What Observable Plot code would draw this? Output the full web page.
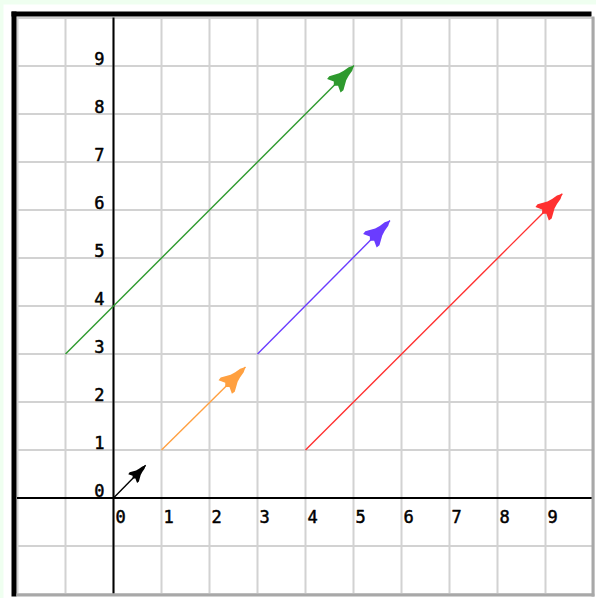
<!DOCTYPE html>
<html>
<head>
<meta charset="utf-8">
<script src="https://cdn.jsdelivr.net/npm/d3@7"></script>
<script src="https://cdn.jsdelivr.net/npm/@observablehq/plot@0.6"></script>
<style>
  html, body { margin: 0; padding: 0; background: #effff0; }
</style>
</head>
<body>
<div id="chart"></div>
<script>
// ---- data ----
const vectorNames = ["black", "orange", "purple", "green", "red"];
const startX = [0, 1, 3, -1, 4];
const startY = [0, 1, 3, 3, 1];
const endX = [0.67, 2.75, 5.76, 5.01, 9.35];
const endY = [0.68, 2.73, 5.78, 9.01, 6.34];
const vectorColors = ["#000000", "#ffa040", "#6a3cff", "#2e9a2e", "#ff3030"];
const headSizes = [6.5, 10, 10, 10, 10];

const gridTicks = [-2, -1, 0, 1, 2, 3, 4, 5, 6, 7, 8, 9, 10];
const xTickLabels = [0, 1, 2, 3, 4, 5, 6, 7, 8, 9];
const yTickLabels = [0, 1, 2, 3, 4, 5, 6, 7, 8, 9];

const vectors = vectorNames.map((name, i) => ({
  name, x1: startX[i], y1: startY[i], x2: endX[i], y2: endY[i],
  color: vectorColors[i], size: headSizes[i]
}));

// arrowhead symbol (jet-like): tip at origin, pointing up; r = 10 => unit scale
const arrowHead = {
  draw(ctx, size) {
    const s = Math.sqrt(size / Math.PI) / 10;
    const pts = [[0,0],[2.5,5],[3.5,11],[5,16],[10,25],[9.5,28.5],[3,25.5],[0,28.5],
                 [-3,25.5],[-9.5,28.5],[-10,25],[-5,16],[-3.5,11],[-2.5,5]];
    ctx.moveTo(pts[0][0] * s, pts[0][1] * s);
    for (let k = 1; k < pts.length; k++) ctx.lineTo(pts[k][0] * s, pts[k][1] * s);
    ctx.closePath();
  }
};

const font = "'DejaVu Sans Mono', monospace";

const chart = Plot.plot({
  width: 596,
  height: 598,
  marginLeft: 17,
  marginRight: 3,
  marginTop: 17.5,
  marginBottom: 4.5,
  x: {domain: [-2, 10], axis: null},
  y: {domain: [-2, 10], axis: null},
  color: {type: "identity"},
  r: {type: "identity"},
  style: {background: "#effff0", overflow: "visible"},
  marks: [
    // white page area
    Plot.frame({fill: "white", stroke: null, insetLeft: -14, insetTop: -13.5, insetRight: -3, insetBottom: -4.5}),
    // grid
    Plot.gridX(gridTicks, {stroke: "#d2d2d2", strokeOpacity: 1, strokeWidth: 2}),
    Plot.gridY(gridTicks, {stroke: "#d2d2d2", strokeOpacity: 1, strokeWidth: 2}),
    // axes
    Plot.ruleX([0], {stroke: "black", strokeWidth: 2}),
    Plot.ruleY([0], {stroke: "black", strokeWidth: 2}),
    // tick labels
    Plot.text(xTickLabels, {x: d => d, y: () => 0, text: d => String(d), textAnchor: "start",
      dx: 2, dy: 20, lineAnchor: "middle", fontSize: 17, fontFamily: font, fill: "black",
      stroke: "black", strokeWidth: 0.5}),
    Plot.text(yTickLabels, {x: () => 0, y: d => d, text: d => String(d), textAnchor: "end",
      dx: -9, dy: -6, lineAnchor: "middle", fontSize: 17, fontFamily: font, fill: "black",
      stroke: "black", strokeWidth: 0.5}),
    // vectors
    Plot.link(vectors, {x1: "x1", y1: "y1", x2: "x2", y2: "y2", stroke: "color", strokeWidth: 1.4}),
    Plot.dot(vectors, {x: "x2", y: "y2", r: "size", symbol: arrowHead, fill: "color", stroke: null,
      rotate: d => Math.atan2(d.x2 - d.x1, d.y2 - d.y1) * 180 / Math.PI}),
    // window border (bevel)
    Plot.frame({fill: "black", stroke: null, insetLeft: -6, insetRight: 577, insetTop: -6.5, insetBottom: -2.5}),
    Plot.frame({fill: "black", stroke: null, insetLeft: -6, insetRight: 2, insetTop: -6.5, insetBottom: 577.5}),
    Plot.frame({fill: "#a8a8a8", stroke: null, insetLeft: 574, insetRight: -1, insetTop: -1.5, insetBottom: -2.5}),
    Plot.frame({fill: "#a8a8a8", stroke: null, insetLeft: -1, insetRight: -1, insetTop: 575.5, insetBottom: -2.5})
  ]
});
document.getElementById("chart").appendChild(chart);
</script>
</body>
</html>
